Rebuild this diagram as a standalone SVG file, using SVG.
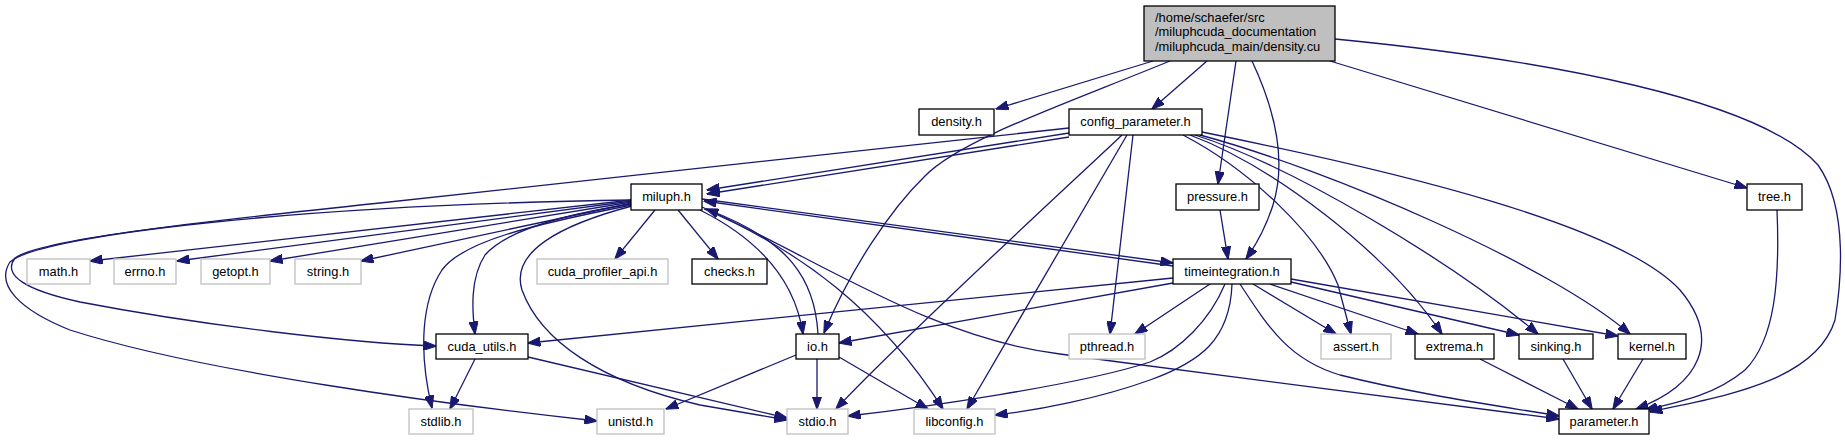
<svg xmlns="http://www.w3.org/2000/svg" width="1845" height="440" viewBox="0 0 1845 440">
<style>
.n rect{fill:#fff;stroke:#000;stroke-width:1.3}
.g rect{fill:#fff;stroke:#bfbfbf;stroke-width:1.3}
.r rect{fill:#bfbfbf;stroke:#000;stroke-width:1.3}
text{font-family:"Liberation Sans",Arial,Helvetica,sans-serif;font-size:12.9px;fill:#000}
.c{text-anchor:middle}
#edges path{fill:none;stroke:#191970;stroke-width:1.3;marker-end:url(#ah)}
</style>
<defs>
<marker id="ah" viewBox="0 0 13 9.4" refX="12.5" refY="4.7" markerWidth="13" markerHeight="9.4" markerUnits="userSpaceOnUse" orient="auto">
<path d="M0,0 L13,4.7 L0,9.4 z" fill="#191970" stroke="#191970" stroke-width="1"/>
</marker>
</defs>
<rect width="1845" height="440" fill="#fff"/>
<g id="edges">
<!-- root -->
<path d="M1153,61 L996,109"/>
<path d="M1170,61 C1060,106 960,140 925,176 C890,210 850,270 824,333"/>
<path d="M1207,61 L1152,109"/>
<path d="M1236,61 L1218,184"/>
<path d="M1252,61 C1275,110 1287,160 1273,205 C1265,230 1256,245 1246,259"/>
<path d="M1330,61 L1747,188"/>
<path d="M1335,39 C1550,60 1760,100 1818,165 C1850,210 1840,290 1835,320 C1815,385 1710,398 1650,412"/>
<!-- config_parameter -->
<path d="M1069,133 L707,190"/>
<path d="M1069,137 L707,194"/>
<path d="M1069,128 L380,203 C180,224 40,240 15,258 C2,275 25,290 80,302 C200,325 350,343 436,346"/>
<path d="M1122,135 C1080,175 900,340 836,409"/>
<path d="M1127,135 L967,409"/>
<path d="M1133,135 L1110,334"/>
<path d="M1183,135 C1250,170 1318,235 1338,285 L1351,334"/>
<path d="M1190,135 C1270,165 1385,250 1442,334"/>
<path d="M1195,135 C1290,165 1450,260 1538,334"/>
<path d="M1200,135 C1330,170 1550,265 1630,334"/>
<path d="M1202,132 C1400,172 1620,225 1680,290 C1722,340 1700,385 1636,409"/>
<!-- pressure -->
<path d="M1220,210 L1228,259"/>
<!-- tree -->
<path d="M1777,210 C1780,280 1775,340 1745,370 C1715,395 1680,402 1645,410"/>
<!-- miluph -->
<path d="M632,200 L90,261"/>
<path d="M632,201 L177,261"/>
<path d="M632,202 L270,261"/>
<path d="M632,203 L361,261"/>
<path d="M632,200 C300,205 40,235 10,262 C-5,285 20,310 70,330 C200,372 450,405 597,421"/>
<path d="M632,204 C560,215 505,232 485,255 C470,278 472,310 475,334"/>
<path d="M632,205 C530,225 462,242 442,270 C422,300 418,350 432,408"/>
<path d="M632,206 C560,225 510,252 522,290 C540,340 600,382 700,405 L787,420"/>
<path d="M655,210 L615,259"/>
<path d="M678,210 L718,259"/>
<path d="M700,210 C760,240 795,280 803,334"/>
<path d="M702,199 L1173,263"/>
<path d="M704,209 C800,250 880,310 943,409"/>
<path d="M702,207 C820,260 930,338 1060,354 C1250,380 1450,405 1559,419"/>
<!-- timeintegration -->
<path d="M1173,266 L704,201"/>
<path d="M1173,278 L528,343"/>
<path d="M1173,283 L839,343"/>
<path d="M1210,284 L1135,334"/>
<path d="M1225,284 C1210,320 1180,350 1150,362 C1080,385 920,408 848,416"/>
<path d="M1232,284 C1230,340 1200,362 1150,380 C1100,398 1040,410 995,415"/>
<path d="M1240,284 C1270,330 1290,360 1340,375 C1420,395 1500,406 1559,416"/>
<path d="M1253,284 L1336,334"/>
<path d="M1270,284 L1418,334"/>
<path d="M1291,282 L1519,335"/>
<path d="M1291,279 L1618,336"/>
<!-- io -->
<path d="M818,334 C815,280 790,240 706,209"/>
<path d="M817,359 L817,409"/>
<path d="M796,355 L666,409"/>
<path d="M839,357 L928,409"/>
<!-- cuda_utils -->
<path d="M475,359 L450,409"/>
<path d="M528,357 L787,418"/>
<!-- to parameter -->
<path d="M1480,359 L1578,409"/>
<path d="M1563,359 L1592,409"/>
<path d="M1643,359 L1613,409"/>
</g>
<g id="node-root" class="r"><rect x="1144" y="6" width="191" height="55"/><text x="1155" y="21.5">/home/schaefer/src</text><text x="1155" y="36">/miluphcuda_documentation</text><text x="1155" y="50.5">/miluphcuda_main/density.cu</text></g>
<g id="node-density" class="n"><rect x="919" y="109" width="75" height="26"/><text class="c" x="956.5" y="126">density.h</text></g>
<g id="node-config_parameter" class="n"><rect x="1069" y="109" width="133" height="26"/><text class="c" x="1135.5" y="126">config_parameter.h</text></g>
<g id="node-miluph" class="n"><rect x="631" y="184" width="71" height="26"/><text class="c" x="666.5" y="201">miluph.h</text></g>
<g id="node-pressure" class="n"><rect x="1176" y="184" width="83" height="26"/><text class="c" x="1217.5" y="201">pressure.h</text></g>
<g id="node-tree" class="n"><rect x="1747" y="184" width="55" height="26"/><text class="c" x="1774.5" y="201">tree.h</text></g>
<g id="node-math" class="g"><rect x="27" y="259" width="63" height="25"/><text class="c" x="58.5" y="276">math.h</text></g>
<g id="node-errno" class="g"><rect x="114" y="259" width="62" height="25"/><text class="c" x="145" y="276">errno.h</text></g>
<g id="node-getopt" class="g"><rect x="201" y="259" width="69" height="25"/><text class="c" x="235.5" y="276">getopt.h</text></g>
<g id="node-string" class="g"><rect x="295" y="259" width="66" height="25"/><text class="c" x="328" y="276">string.h</text></g>
<g id="node-cuda_profiler_api" class="g"><rect x="537" y="259" width="131" height="25"/><text class="c" x="602.5" y="276">cuda_profiler_api.h</text></g>
<g id="node-checks" class="n"><rect x="692" y="259" width="75" height="25"/><text class="c" x="729.5" y="276">checks.h</text></g>
<g id="node-timeintegration" class="n"><rect x="1173" y="259" width="118" height="25"/><text class="c" x="1232" y="276">timeintegration.h</text></g>
<g id="node-cuda_utils" class="n"><rect x="436" y="334" width="92" height="25"/><text class="c" x="482" y="351">cuda_utils.h</text></g>
<g id="node-io" class="n"><rect x="796" y="334" width="43" height="25"/><text class="c" x="817.5" y="351">io.h</text></g>
<g id="node-pthread" class="g"><rect x="1069" y="334" width="76" height="25"/><text class="c" x="1107" y="351">pthread.h</text></g>
<g id="node-assert" class="g"><rect x="1321" y="334" width="70" height="25"/><text class="c" x="1356" y="351">assert.h</text></g>
<g id="node-extrema" class="n"><rect x="1415" y="334" width="79" height="25"/><text class="c" x="1454.5" y="351">extrema.h</text></g>
<g id="node-sinking" class="n"><rect x="1519" y="334" width="74" height="25"/><text class="c" x="1556" y="351">sinking.h</text></g>
<g id="node-kernel" class="n"><rect x="1618" y="334" width="68" height="25"/><text class="c" x="1652" y="351">kernel.h</text></g>
<g id="node-stdlib" class="g"><rect x="409" y="409" width="64" height="25"/><text class="c" x="441" y="426">stdlib.h</text></g>
<g id="node-unistd" class="g"><rect x="597" y="409" width="67" height="25"/><text class="c" x="630.5" y="426">unistd.h</text></g>
<g id="node-stdio" class="g"><rect x="787" y="409" width="61" height="25"/><text class="c" x="817.5" y="426">stdio.h</text></g>
<g id="node-libconfig" class="g"><rect x="914" y="409" width="81" height="25"/><text class="c" x="954.5" y="426">libconfig.h</text></g>
<g id="node-parameter" class="n"><rect x="1559" y="409" width="90" height="25"/><text class="c" x="1604" y="426">parameter.h</text></g>
</svg>
